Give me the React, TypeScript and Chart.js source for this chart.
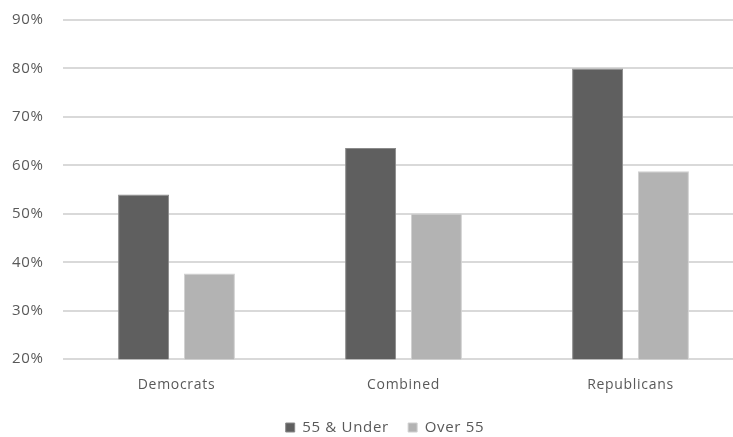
import React, { useEffect, useRef } from "react";
import { Chart, registerables } from "chart.js";

Chart.register(...registerables);

const categories = ["Democrats", "Combined", "Republicans"];
const under55 = [54, 63.6, 80];
const over55 = [37.7, 50, 58.8];
const seriesNames = ["55 & Under", "Over 55"];
const yMin = 20;
const yMax = 90;
const yStep = 10;

const SPACING = "0.7px";
const spacingPlugin = {
  id: "letterSpacing",
  beforeUpdate(chart: any) {
    chart.ctx.letterSpacing = SPACING;
  },
  beforeLayout(chart: any) {
    chart.ctx.letterSpacing = SPACING;
  },
  afterLayout(chart: any) {
    if (chart.legend) {
      chart.legend.left += 7;
      chart.legend.right += 7;
    }
  },
  beforeDraw(chart: any) {
    chart.ctx.letterSpacing = SPACING;
  },
};

export default function App() {
  const ref = useRef<HTMLCanvasElement | null>(null);
  useEffect(() => {
    if (!ref.current) return;
    const family = "'Open Sans', 'Liberation Sans', sans-serif";
    const font = { family, size: 14 };
    const chart = new Chart(ref.current, {
      type: "bar",
      plugins: [spacingPlugin],
      data: {
        labels: categories,
        datasets: [
          {
            label: seriesNames[0],
            data: under55,
            backgroundColor: "#5f5f5f",
            borderColor: "#8a8a8a",
            borderWidth: 1,
            categoryPercentage: 0.58,
            barPercentage: 0.775,
          },
          {
            label: seriesNames[1],
            data: over55,
            backgroundColor: "#b3b3b3",
            borderColor: "#d0d0d0",
            borderWidth: 1,
            categoryPercentage: 0.58,
            barPercentage: 0.775,
          },
        ],
      },
      options: {
        animation: false,
        responsive: true,
        maintainAspectRatio: false,
        layout: { padding: { top: 0, right: 0, left: 12, bottom: -8 } },
        plugins: {
          tooltip: { enabled: false },
          legend: {
            position: "bottom",
            labels: {
              boxWidth: 9,
              boxHeight: 9,
              color: "#595959",
              font: { family, size: 15 },
              padding: 10,
              generateLabels: (c: any) => {
                const items = Chart.defaults.plugins.legend.labels.generateLabels(c);
                return items.map((it: any, i: number) =>
                  i < items.length - 1 ? { ...it, text: it.text + "  " } : it
                );
              },
            },
          },
        },
        scales: {
          x: {
            grid: { display: false, drawTicks: false },
            border: { display: false },
            ticks: { color: "#595959", font, padding: 17 },
          },
          y: {
            min: yMin,
            max: yMax,
            afterFit: (s: any) => {
              s.width = 51;
            },
            grid: { color: "#d9d9d9", lineWidth: 2, drawTicks: false },
            border: { display: false },
            ticks: {
              stepSize: yStep,
              color: "#595959",
              font: { family, size: 15 },
              padding: 11,
              crossAlign: "far",
              callback: (v: any) => v + "%",
            },
          },
        },
      },
    });
    return () => chart.destroy();
  }, []);
  return (
    <div style={{ position: "fixed", left: 0, top: 0, width: 733, height: 437, overflow: "hidden", background: "#fff" }}>
      <div style={{ position: "relative", width: 744, height: 437 }}>
        <canvas ref={ref} />
      </div>
    </div>
  );
}
